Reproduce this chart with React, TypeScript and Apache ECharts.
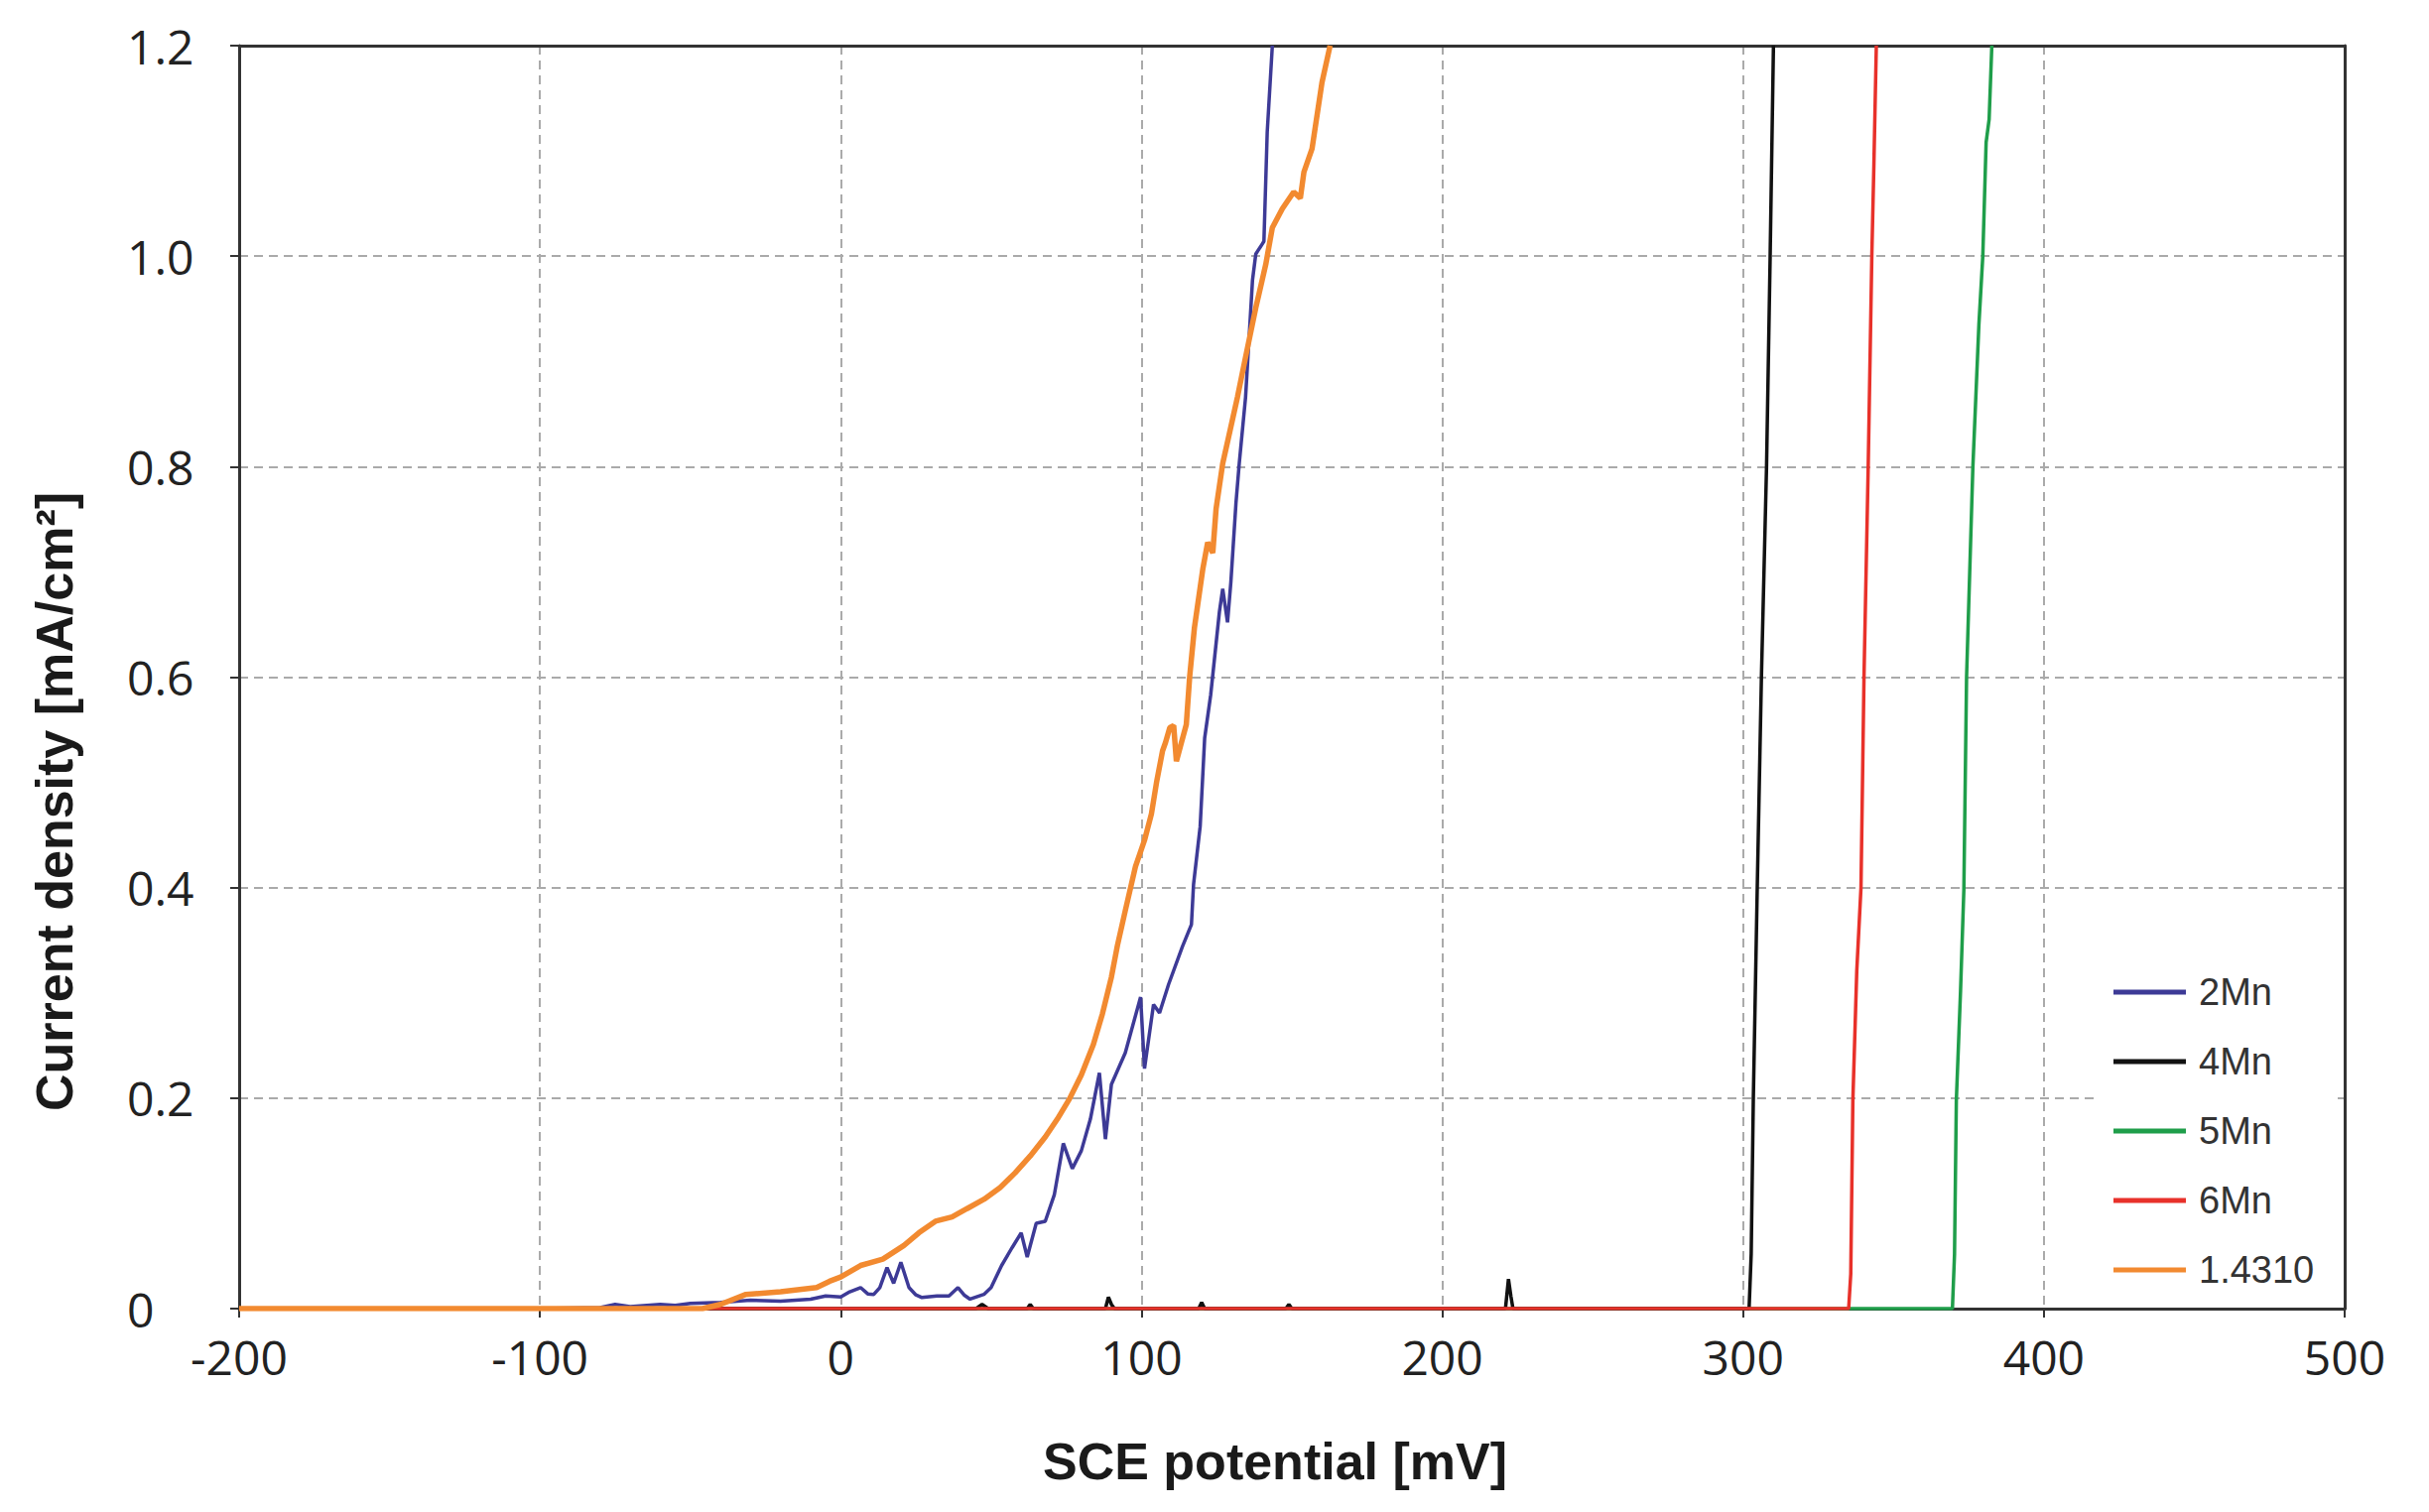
import React, { useEffect, useRef } from "react";
import * as echarts from "echarts";

const seriesNames = ["2Mn", "4Mn", "5Mn", "6Mn", "1.4310"];
const seriesColors = ["#3d3a96", "#111111", "#1f9e4a", "#e8312a", "#f28a30"];

const xTicks = { min: -200, max: 500, interval: 100 };
const yTicks = { min: 0, max: 1.2, interval: 0.2 };

// [potential mV, current density mA/cm²]
const data2Mn: number[][] = [
  [-200, 0], [-100, 0], [-80, 0.001], [-75, 0.004], [-70, 0.002], [-60, 0.004], [-55, 0.003],
  [-50, 0.005], [-40, 0.006], [-30, 0.008], [-20, 0.007], [-10, 0.009], [-5, 0.012], [0, 0.011],
  [3, 0.016], [6.6, 0.02], [9, 0.014], [11, 0.0135], [13, 0.02], [15.4, 0.039], [17.6, 0.024],
  [20, 0.044], [22.7, 0.02], [25, 0.013], [27, 0.0105], [32, 0.012], [36, 0.012], [39, 0.02],
  [41, 0.013], [43, 0.009], [47.6, 0.0135], [50, 0.02], [53.5, 0.041], [57, 0.058], [60, 0.072],
  [62, 0.049], [65, 0.081], [68, 0.083], [71, 0.108], [74, 0.157], [77, 0.133], [80, 0.15],
  [83, 0.18], [86, 0.224], [88, 0.161], [90, 0.213], [94.6, 0.243], [99.7, 0.296], [101, 0.228],
  [104, 0.289], [106, 0.281], [109, 0.308], [113.6, 0.344], [116.6, 0.365], [117.3, 0.403],
  [119.5, 0.458], [121, 0.542], [123, 0.583], [125.9, 0.662], [127, 0.684], [128.6, 0.652],
  [129.7, 0.69], [131.4, 0.765], [132.5, 0.803], [134.6, 0.866], [136.9, 0.977], [138, 1.002],
  [140.7, 1.014], [141.8, 1.118], [143.5, 1.2],
];

const data4Mn: number[][] = [
  [-200, 0], [45, 0], [47, 0.004], [49, 0], [62, 0], [63, 0.004], [64, 0], [88, 0], [89, 0.011],
  [90, 0.004], [91, 0], [119, 0], [120, 0.006], [121, 0], [148, 0], [149, 0.004], [150, 0],
  [221, 0], [222, 0.028], [222.8, 0.012], [223.5, 0], [302, 0], [302.7, 0.052], [303.4, 0.198],
  [304.7, 0.398], [306.1, 0.6], [307.8, 0.8], [309, 1.0], [310.1, 1.2],
];

const data5Mn: number[][] = [
  [-200, 0], [369.6, 0], [370.3, 0.052], [370.9, 0.198], [372.3, 0.302], [373.4, 0.398],
  [374.3, 0.6], [376.4, 0.8], [378.4, 0.935], [379.7, 1.0], [380.8, 1.108], [381.8, 1.13],
  [382.7, 1.2],
];

const data6Mn: number[][] = [
  [-200, 0], [335.1, 0], [335.8, 0.033], [336.5, 0.198], [337.8, 0.321], [339.2, 0.4],
  [340.2, 0.6], [341.6, 0.8], [342.8, 1.0], [343.5, 1.088], [344.3, 1.2],
];

const data14310: number[][] = [
  [-200, 0], [-46, 0], [-40, 0.004], [-31.5, 0.0135], [-20, 0.016], [-8, 0.02], [-3.7, 0.026],
  [0, 0.03], [6.6, 0.041], [14, 0.047], [21, 0.06], [26, 0.072], [31.5, 0.083], [37, 0.087],
  [42, 0.095], [47.7, 0.104], [53, 0.115], [58, 0.129], [63, 0.145], [68, 0.163], [72, 0.18],
  [76, 0.199], [80, 0.222], [84, 0.251], [87, 0.28], [90, 0.315], [92, 0.345], [94.6, 0.378],
  [98, 0.42], [101, 0.445], [103.3, 0.47], [105, 0.5], [107, 0.53], [108, 0.538], [109.4, 0.552],
  [110.7, 0.554], [111.6, 0.52], [113, 0.535], [114.9, 0.555], [116, 0.6], [117.6, 0.647],
  [120.4, 0.703], [122, 0.728], [123.7, 0.718], [124.8, 0.76], [127, 0.803], [129.5, 0.835],
  [131.9, 0.866], [134.6, 0.904], [138, 0.951], [141.3, 0.992], [143.5, 1.027], [146.8, 1.045],
  [150.6, 1.061], [152.8, 1.055], [154, 1.08], [156.7, 1.102], [160, 1.165], [162.7, 1.2],
];

const allData = [data2Mn, data4Mn, data5Mn, data6Mn, data14310];
const lineWidths = [3.5, 3.5, 3.5, 3.5, 5.5];
const zOrder = [5, 3, 2, 4, 6];

const xTitle = "SCE potential [mV]";
const yTitle = "Current density [mA/cm²]";

export default function App() {
  const ref = useRef<HTMLDivElement>(null);
  useEffect(() => {
    if (!ref.current) return;
    const chart = echarts.init(ref.current, undefined, { renderer: "svg" });
    const tickFont = { fontFamily: "'Open Sans', 'Noto Sans', sans-serif", fontSize: 48, color: "#222" };
    const frameAxis = {
      type: "value",
      axisLine: { show: true, onZero: false, lineStyle: { color: "#333", width: 3 } },
      axisTick: { show: false },
      axisLabel: { show: false },
      splitLine: { show: false },
    };
    chart.setOption({
      animation: false,
      backgroundColor: "#ffffff",
      grid: { left: 241, right: 85, top: 46, bottom: 205 },
      xAxis: [
        {
          type: "value",
          min: xTicks.min, max: xTicks.max, interval: xTicks.interval,
          axisLine: { show: true, onZero: false, lineStyle: { color: "#333", width: 3 } },
          axisTick: { show: true, length: 9, lineStyle: { color: "#333", width: 2 } },
          axisLabel: { ...tickFont, margin: 24 },
          splitLine: { show: true, lineStyle: { color: "#aaaaaa", width: 2, type: [9, 6] } },
          name: xTitle,
          nameLocation: "middle",
          nameGap: 128,
          nameTextStyle: {
            fontFamily: "'Liberation Sans', Arial, sans-serif", fontWeight: "bold", fontSize: 52,
            color: "#1a1a1a", padding: [0, 34, 0, 0],
          },
        },
        { ...frameAxis, position: "top", min: xTicks.min, max: xTicks.max },
      ],
      yAxis: [
        {
          type: "value",
          min: yTicks.min, max: yTicks.max, interval: yTicks.interval,
          axisLine: { show: true, onZero: false, lineStyle: { color: "#333", width: 3 } },
          axisTick: { show: true, length: 9, lineStyle: { color: "#333", width: 2 } },
          axisLabel: {
            ...tickFont, margin: 113, align: "left",
            formatter: (v: number) => (v === 0 ? "0" : v.toFixed(1)),
          },
          splitLine: { show: true, lineStyle: { color: "#aaaaaa", width: 2, type: [9, 6] } },
        },
        { ...frameAxis, position: "right", min: yTicks.min, max: yTicks.max },
      ],
      legend: {
        data: seriesNames,
        orient: "vertical",
        left: 2116,
        top: 950,
        padding: [30, 20, 12, 14],
        backgroundColor: "#ffffff",
        itemGap: 30,
        itemWidth: 73,
        itemHeight: 5,
        icon: "rect",
        textStyle: {
          fontFamily: "'Liberation Sans', Arial, sans-serif",
          fontSize: 38, color: "#333", lineHeight: 40, padding: [0, 0, 0, 8],
        },
      },
      graphic: [
        {
          type: "text",
          x: 55, y: 808, rotation: Math.PI / 2,
          style: {
            text: yTitle, textAlign: "center", textVerticalAlign: "middle",
            fontFamily: "'Liberation Sans', Arial, sans-serif", fontWeight: "bold", fontSize: 52, fill: "#1a1a1a",
          },
        },
      ],
      series: seriesNames.map((name, i) => ({
        name,
        type: "line",
        xAxisIndex: 0,
        yAxisIndex: 0,
        data: allData[i],
        showSymbol: false,
        symbol: "none",
        clip: true,
        z: zOrder[i],
        color: seriesColors[i],
        lineStyle: { color: seriesColors[i], width: lineWidths[i] },
        emphasis: { disabled: true },
      })),
    });
    return () => chart.dispose();
  }, []);
  return (
    <div
      ref={ref}
      style={{ position: "fixed", left: 0, top: 0, width: 2448, height: 1524, background: "#fff" }}
    />
  );
}
